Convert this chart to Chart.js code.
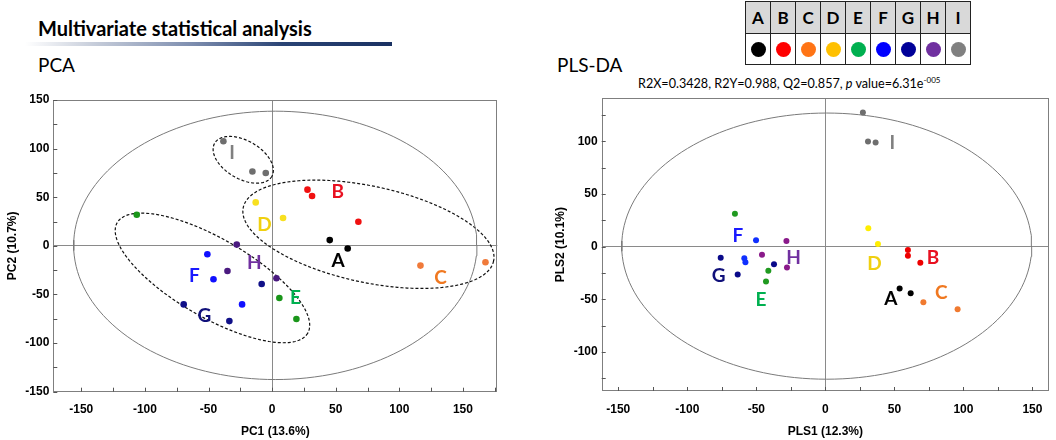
<!DOCTYPE html>
<html><head><meta charset="utf-8">
<script src="https://cdn.jsdelivr.net/npm/chart.js@4.4.1/dist/chart.umd.min.js"></script>
<style>
body{margin:0;background:#fff;}
#wrap{position:relative;width:1056px;height:440px;overflow:hidden;background:#fff;}
.abs{position:absolute;}
#title{left:38px;top:18px;font:bold 20px Lato,sans-serif;line-height:20px;color:#000;white-space:nowrap;}
#rule{left:25px;top:42px;width:367px;height:4px;background:linear-gradient(to right,rgba(230,234,240,0),#c3cad8 20%,#7f8fb0 45%,#2a4475 70%,#1a3162 100%);}
.sub{font:19px Lato,sans-serif;line-height:19px;color:#000;white-space:nowrap;top:55px;}
#stats{left:638px;top:78px;font:12.6px Lato,sans-serif;line-height:12px;color:#000;white-space:nowrap;}
#stats .sp{font-size:8px;position:relative;top:-5px;}
#legend{left:745px;top:1px;border-collapse:collapse;}
#legend td{border:1.5px solid #222;width:24px;padding:0;text-align:center;}
#legend tr.h td{height:31px;background:#d9d9d9;font:bold 17px Lato,sans-serif;}
#legend tr.c td{height:30px;background:#fff;}
#legend .dot{width:15px;height:15px;border-radius:50%;margin:0 auto;}
</style></head><body>
<div id="wrap">
 <div id="title" class="abs">Multivariate statistical analysis</div>
 <div id="rule" class="abs"></div>
 <div class="abs sub" style="left:38px">PCA</div>
 <div class="abs sub" style="left:557px">PLS-DA</div>
 <table id="legend" class="abs"><tr class="h" id="lh"></tr><tr class="c" id="lc"></tr></table>
 <div id="stats" class="abs">R2X=0.3428, R2Y=0.988, Q2=0.857, <i>p</i> value=6.31e<span class="sp">-005</span></div>
 <canvas id="c1" width="530" height="355" class="abs" style="left:0;top:85px"></canvas>
 <canvas id="c2" width="526" height="355" class="abs" style="left:530px;top:85px"></canvas>
</div>
<script>
// ---- categories & colours ----
const groups = ['A','B','C','D','E','F','G','H','I'];
const legendColors = ['#000000','#ff0000','#ff7415','#ffc000','#00b050','#0000ff','#000099','#7030a0','#808080'];
const pcaPointColors = ['#000000','#f01010','#f07a3a','#f8e020','#1a961a','#1010ff','#101088','#4a1a80','#6e6e6e'];
const plsPointColors = ['#000000','#ee0000','#f07a30','#ffee00','#209a20','#1030ff','#0a0a8a','#8a1a8a','#6e6e6e'];
const labelColors = ['#000000','#e81020','#f07820','#f0d010','#00b050','#1a1aff','#10107a','#7030a0','#808080'];

// ---- PCA scores [PC1, PC2] ----
const pcaA = [[45.3,5.9],[59.4,-2.8]];
const pcaB = [[27.8,57.8],[31.4,51.3],[67.8,24.8]];
const pcaC = [[116.6,-20.3],[167.7,-16.8]];
const pcaD = [[-12.9,44.7],[8.6,28.6]];
const pcaE = [[-106.4,32.0],[5.7,-53.7],[19.1,-75.3]];
const pcaF = [[-50.9,-8.6],[-46.1,-34.4],[-23.6,-60.2]];
const pcaG = [[-69.5,-60.2],[-33.6,-77.4],[-8.2,-39.2]];
const pcaH = [[-27.8,1.3],[-35.1,-25.8],[3.4,-33.3]];
const pcaI = [[-38.3,107.6],[-15.5,76.4],[-5.0,75.0]];

// ---- PLS-DA scores [PLS1, PLS2] ----
const plsA = [[53.8,-39.6],[61.8,-44.1]];
const plsB = [[59.8,-3.1],[59.8,-8.6],[68.8,-15.2]];
const plsC = [[71.0,-52.7],[95.8,-59.3]];
const plsD = [[31.1,17.5],[38.1,2.6]];
const plsE = [[-65.5,31.4],[-41.3,-22.9],[-43.0,-33.0]];
const plsF = [[-50.2,6.1],[-58.7,-11.0],[-57.9,-14.6]];
const plsG = [[-75.8,-10.5],[-63.5,-26.3],[-37.2,-16.5]];
const plsH = [[-45.9,-7.6],[-28.2,5.4],[-27.8,-19.6]];
const plsI = [[27.2,127.6],[30.9,100.0],[36.4,99.0]];

// ---- group label anchors (data units) ----
const pcaLabelPos = [[51.9,-15.2],[51.6,55.0],[132.3,-32.7],[-6.1,21.7],[18.3,-54.0],[-61.1,-31.0],[-53.2,-72.2],[-13.9,-17.5],[-31.4,95.7]];
const plsLabelPos = [[47.5,-49.8],[77.9,-11.0],[84.0,-43.4],[35.5,-15.8],[-46.6,-50.1],[-63.3,10.2],[-77.3,-27.9],[-23.0,-10.5],[48.5,99.0]];

// ---- ellipses: [cx, cy, axis1x, axis1y, axis2x, axis2y] (data units) ----
const pcaHotelling = [2.5,0.5,158.5,0,0,138];
const pcaEllipseI = [-22.7,88.5,22.47,-17.03,-7.47,-16.98];
const pcaEllipseLeft = [-46.9,-33.0,74.9,-56.8,-15.3,-34.9];
const pcaEllipseRight = [75.7,11.9,98.4,-27.5,-7.84,-48.45];
const plsHotelling = [1,0.6,148.5,0,0,126.4];

// ---- axis titles ----
const pcaAxisTitles = ['PC1 (13.6%)','PC2 (10.7%)'];
const plsAxisTitles = ['PLS1 (12.3%)','PLS2 (10.1%)'];

// legend table
const lh = document.getElementById('lh'), lc = document.getElementById('lc');
groups.forEach((g,i)=>{
  const th=document.createElement('td'); th.textContent=g; lh.appendChild(th);
  const td=document.createElement('td'); const d=document.createElement('div'); d.className='dot'; d.style.background=legendColors[i]; td.appendChild(d); lc.appendChild(td);
});

function ellipsePts(e){
  const pts=[];
  for(let i=0;i<=160;i++){const t=i/160*2*Math.PI;
    pts.push({x:e[0]+e[2]*Math.cos(t)+e[4]*Math.sin(t), y:e[1]+e[3]*Math.cos(t)+e[5]*Math.sin(t)});}
  return pts;
}
const toXY = arr => arr.map(p=>({x:p[0],y:p[1]}));

const framePlugin = {
  id:'frame',
  beforeDatasetsDraw(chart){
    const {ctx, chartArea:a, scales:{x,y}} = chart;
    ctx.save();
    ctx.strokeStyle='#7f7f7f'; ctx.lineWidth=1;
    ctx.strokeRect(Math.round(a.left)+0.5, Math.round(a.top)+0.5, Math.round(a.width)-1, Math.round(a.height)-1);
    ctx.beginPath();
    x.ticks.forEach(t=>{const px=Math.round(x.getPixelForValue(t.value))+0.5; ctx.moveTo(px,a.bottom); ctx.lineTo(px,a.bottom-4);});
    y.ticks.forEach(t=>{const py=Math.round(y.getPixelForValue(t.value))+0.5; ctx.moveTo(a.left,py); ctx.lineTo(a.left+4,py);});
    ctx.strokeStyle='#555';
    ctx.stroke();
    ctx.restore();
  },
  afterDatasetsDraw(chart, args, opts){
    const {ctx, scales:{x,y}} = chart;
    ctx.save();
    ctx.font = 'bold 19px Lato, sans-serif';
    ctx.textAlign='center'; ctx.textBaseline='middle';
    opts.pos.forEach((p,i)=>{
      ctx.fillStyle = labelColors[i];
      ctx.fillText(groups[i], x.getPixelForValue(p[0]), y.getPixelForValue(p[1]));
    });
    ctx.restore();
  }
};

const tickFont = {family:'Liberation Sans, Arial, sans-serif', size:12, weight:'bold'};
function makeScale(min,max,title,opts){
  return {
    type:'linear', min, max,
    afterFit: s => { if(opts.w!==undefined) s.width=opts.w; if(opts.h!==undefined) s.height=opts.h; },
    border:{display:false},
    grid:{drawTicks:false, lineWidth:1, color: c => (c.tick && c.tick.value===0) ? '#8a8a8a' : 'rgba(0,0,0,0)'},
    ticks:{stepSize:25, includeBounds:false, autoSkip:false, maxRotation:0, padding:opts.pad, color:'#000', font:tickFont,
      callback: v => (v % 50 === 0) ? String(v) : ''},
    title:{display:true, text:title, color:'#000', font:{family:'Liberation Sans, Arial, sans-serif', size:12, weight:'bold'}, padding:opts.tpad}
  };
}

function makeChart(id, sets, colors, ellipses, dashed, labelPos, xr, yr, titles, lay){
  const ds = [];
  sets.forEach((s,i)=>ds.push({type:'scatter', data:toXY(s), backgroundColor:colors[i], borderColor:colors[i], pointRadius:lay.r, pointHoverRadius:lay.r, borderWidth:0, order:1}));
  ellipses.forEach((e,i)=>ds.push({type:'scatter', data:ellipsePts(e), showLine:true, pointRadius:0, borderColor: dashed[i]?'#111':'#7a7a7a', borderWidth: dashed[i]?1.2:1, borderDash: dashed[i]?[3,2]:[], fill:false, tension:0, order:5}));
  return new Chart(document.getElementById(id), {
    type:'scatter',
    data:{datasets:ds},
    options:{
      responsive:false, animation:false, devicePixelRatio:1,
      layout:{padding:lay.padding},
      plugins:{legend:{display:false}, tooltip:{enabled:false}, frame:{pos:labelPos}},
      scales:{
        x: makeScale(xr[0],xr[1],titles[0],{h:lay.xh, pad:11, tpad:{top:0,bottom:1}}),
        y: makeScale(yr[0],yr[1],titles[1],{w:lay.yw, pad:4, tpad:{top:lay.ytp,bottom:0}})
      }
    },
    plugins:[framePlugin]
  });
}

makeChart('c1', [pcaA,pcaB,pcaC,pcaD,pcaE,pcaF,pcaG,pcaH,pcaI], pcaPointColors,
  [pcaHotelling,pcaEllipseI,pcaEllipseLeft,pcaEllipseRight], [false,true,true,true], pcaLabelPos,
  [-172,177], [-150,150], pcaAxisTitles,
  {padding:{left:0,right:32.7,top:15,bottom:0}, xh:48.3, yw:53.3, ytp:5, r:3.3});

makeChart('c2', [plsA,plsB,plsC,plsD,plsE,plsF,plsG,plsH,plsI], plsPointColors,
  [plsHotelling], [false], plsLabelPos,
  [-162,162], [-137,141], plsAxisTitles,
  {padding:{left:0,right:7,top:13.3,bottom:0}, xh:49, yw:71.7, ytp:23, r:3});
</script>
</body></html>
